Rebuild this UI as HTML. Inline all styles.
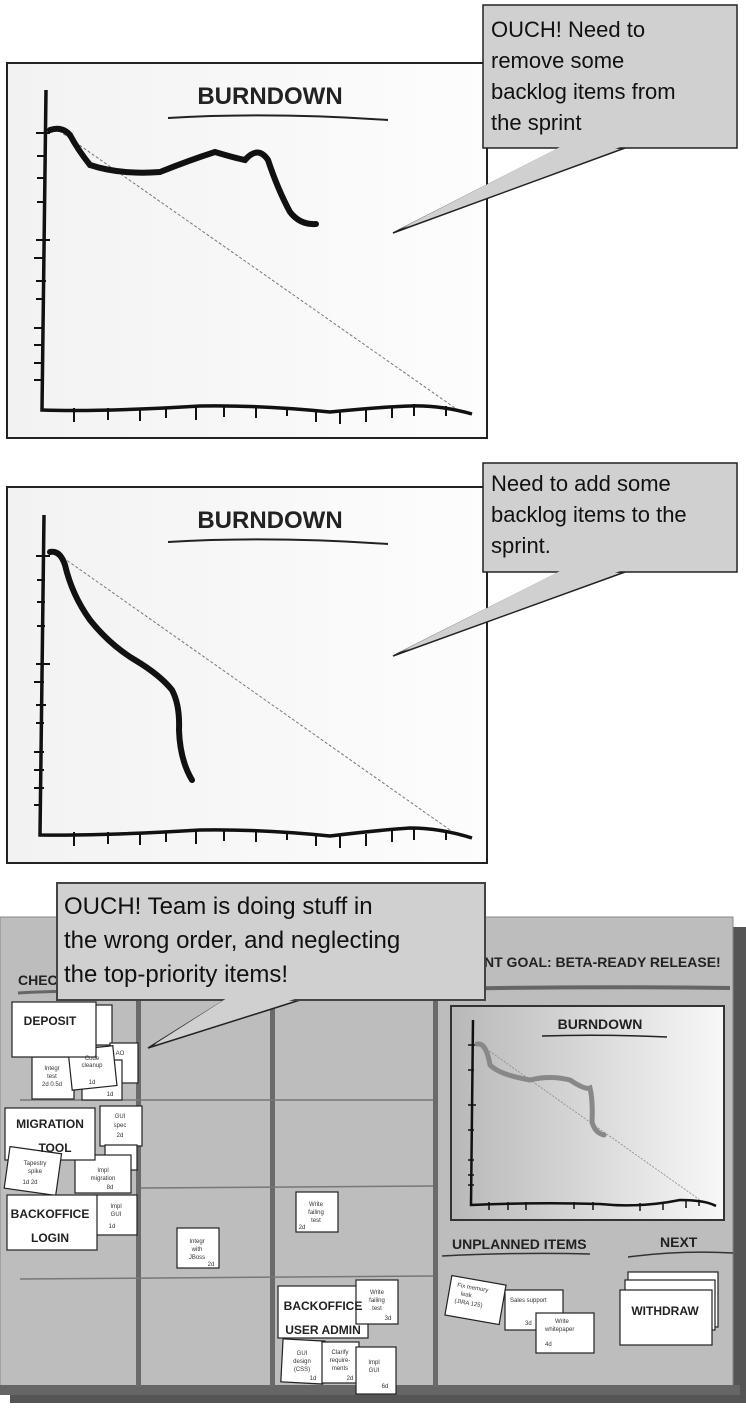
<!DOCTYPE html>
<html><head><meta charset="utf-8"><style>
html,body{margin:0;padding:0;background:#fff;}
svg{display:block;}
.t{font-family:"Liberation Sans",sans-serif;}
.c{font-family:"Liberation Sans",sans-serif;font-weight:bold;}
.s{font-family:"Liberation Sans",sans-serif;font-size:6px;fill:#333;}
</style></head><body>
<svg width="746" height="1410" viewBox="0 0 746 1410" xmlns="http://www.w3.org/2000/svg">
<defs>
<linearGradient id="pg" x1="0" y1="0" x2="1" y2="0"><stop offset="0" stop-color="#f2f2f2"/><stop offset="1" stop-color="#fdfdfd"/></linearGradient>
<linearGradient id="bg" x1="0" y1="0" x2="1" y2="0"><stop offset="0" stop-color="#b8b8b8"/><stop offset="1" stop-color="#f8f8f8"/></linearGradient>
</defs>

<!-- Panel 1 -->
<rect x="7" y="63" width="480" height="375" fill="url(#pg)" stroke="#222" stroke-width="2"/>
<text x="270" y="104" class="c" font-size="24" text-anchor="middle" fill="#222">BURNDOWN</text>
<path d="M168 118 Q270 112 388 120" stroke="#222" stroke-width="2" fill="none"/>
<path d="M46 90 Q44 250 42 410 Q100 412 200 406 Q260 405 330 412 Q380 407 410 406 Q440 405 472 414" stroke="#111" stroke-width="3.5" fill="none"/>
<g stroke="#111" stroke-width="2"><path d="M36 133h14M37 156h8M37 178h8M37 202h8M36 240h14M34 258h10M36 281h10M36 299h8M34 328h10M34 345h10M34 363h10M34 380h8M74 408v14M108 408v12M140 408v13M166 408v10M196 406v14M224 405v12M256 406v12M287 408v8M316 410v12M340 410v14M366 410v12M392 406v12M414 404v12M446 406v10"/></g>
<line x1="55" y1="128" x2="455" y2="408" stroke="#777" stroke-width="1" stroke-dasharray="3,2"/>
<path d="M50 130 Q62 126 70 135 Q78 150 90 165 Q120 175 160 172 Q190 160 215 152 Q235 158 245 160 Q258 145 268 160 Q278 190 290 212 Q300 225 316 224" stroke="#111" stroke-width="6" fill="none" stroke-linecap="round"/>

<!-- Callout 1 -->
<polygon points="560,148 625,148 393,233" fill="#d0d0d0" stroke="#222" stroke-width="1.5"/>
<rect x="483" y="5" width="254" height="143" fill="#d0d0d0" stroke="#222" stroke-width="1.5"/>
<polygon points="562,146 623,146 400,229" fill="#d0d0d0"/>
<g class="t" font-size="22" fill="#111"><text x="491" y="37">OUCH! Need to</text><text x="491" y="68">remove some</text><text x="491" y="99">backlog items from</text><text x="491" y="130">the sprint</text></g>

<!-- Panel 2 -->
<rect x="7" y="487" width="480" height="376" fill="url(#pg)" stroke="#222" stroke-width="2"/>
<text x="270" y="528" class="c" font-size="24" text-anchor="middle" fill="#222">BURNDOWN</text>
<path d="M168 542 Q270 536 388 544" stroke="#222" stroke-width="2" fill="none"/>
<path d="M44 515 Q42 680 40 835 Q100 836 200 830 Q260 829 330 836 Q380 830 410 828 Q440 828 472 838" stroke="#111" stroke-width="3.5" fill="none"/>
<g stroke="#111" stroke-width="2"><path d="M36 556h14M37 580h8M37 602h8M37 626h8M36 664h14M34 682h10M36 705h10M36 723h8M34 752h10M34 770h10M34 788h10M34 805h8M74 832v14M108 832v12M140 832v13M166 832v10M196 830v14M224 829v12M256 830v12M287 832v8M316 834v12M340 834v14M366 834v12M392 830v12M414 828v12M446 830v10"/></g>
<line x1="55" y1="552" x2="450" y2="830" stroke="#777" stroke-width="1" stroke-dasharray="3,2"/>
<path d="M50 552 Q60 550 65 565 Q72 595 90 620 Q110 645 135 660 Q160 675 172 690 Q180 705 179 730 Q180 760 192 780" stroke="#111" stroke-width="6" fill="none" stroke-linecap="round"/>

<!-- Callout 2 -->
<polygon points="560,572 625,572 393,656" fill="#d0d0d0" stroke="#222" stroke-width="1.5"/>
<rect x="483" y="463" width="254" height="109" fill="#d0d0d0" stroke="#222" stroke-width="1.5"/>
<polygon points="562,570 623,570 400,652" fill="#d0d0d0"/>
<g class="t" font-size="22" fill="#111"><text x="491" y="491">Need to add some</text><text x="491" y="522">backlog items to the</text><text x="491" y="553">sprint.</text></g>

<!-- Board -->
<rect x="10" y="927" width="736" height="476" fill="#555"/>
<rect x="0" y="917" width="733" height="470" fill="#bdbdbd" stroke="#888" stroke-width="1"/>
<rect x="0" y="1385" width="740" height="10" fill="#666"/>
<g fill="#6a6a6a"><rect x="136" y="995" width="5" height="392"/><rect x="270" y="995" width="5" height="392"/><rect x="433" y="917" width="5" height="470"/></g>
<g stroke="#777" stroke-width="1.5"><line x1="20" y1="1100" x2="433" y2="1100"/><line x1="141" y1="1188" x2="433" y2="1186"/><line x1="20" y1="1279" x2="433" y2="1276"/></g>
<path d="M18 993 Q60 990 133 992" stroke="#666" stroke-width="3" fill="none"/>
<path d="M440 989 Q600 986 730 988" stroke="#666" stroke-width="4" fill="none"/>
<text x="18" y="985" class="c" font-size="14" fill="#222">CHEC</text>
<text x="484" y="967" class="c" font-size="14" fill="#222">NT GOAL: BETA-READY RELEASE!</text>

<!-- Mini burndown -->
<rect x="451" y="1006" width="273" height="214" fill="url(#bg)" stroke="#333" stroke-width="2"/>
<text x="600" y="1029" class="c" font-size="14" text-anchor="middle" fill="#222">BURNDOWN</text>
<path d="M542 1036 Q600 1034 667 1037" stroke="#222" stroke-width="1.5" fill="none"/>
<path d="M473 1020 Q472 1110 471 1205 Q540 1202 600 1204 Q640 1208 680 1200 Q705 1200 716 1206" stroke="#111" stroke-width="2.5" fill="none"/>
<g stroke="#111" stroke-width="1.5"><path d="M468 1045h8M468 1070h6M468 1105h8M468 1130h6M468 1160h6M468 1175h6M468 1185h6M489 1202v8M508 1202v8M526 1202v8M574 1202v7M593 1202v8M640 1203v8M663 1202v8M686 1200v8M699 1200v6"/></g>
<line x1="478" y1="1043" x2="700" y2="1200" stroke="#888" stroke-width="0.8" stroke-dasharray="2,1.5"/>
<path d="M477 1044 Q486 1042 490 1065 Q500 1075 530 1080 Q550 1075 570 1080 Q585 1090 590 1088 Q593 1100 592 1122 Q595 1133 604 1135" stroke="#888" stroke-width="5" fill="none" stroke-linecap="round"/>
<text x="452" y="1249" class="c" font-size="14" fill="#222">UNPLANNED ITEMS</text>
<path d="M442 1256 Q520 1252 590 1254" stroke="#333" stroke-width="1.5" fill="none"/>
<text x="660" y="1247" class="c" font-size="14" fill="#222">NEXT</text>
<path d="M628 1257 Q680 1250 733 1253" stroke="#333" stroke-width="1.5" fill="none"/>
<g fill="#fff" stroke="#222" stroke-width="1.2">
<rect x="448" y="1280" width="55" height="40" transform="rotate(10 475 1300)"/>
<rect x="505" y="1290" width="58" height="40"/>
<rect x="536" y="1313" width="58" height="40"/>
<rect x="628" y="1272" width="90" height="55"/>
<rect x="625" y="1280" width="90" height="50"/>
<rect x="620" y="1290" width="92" height="55"/>
</g>
<g class="s"><text x="455" y="1290" transform="rotate(10 475 1300)">Fix memory</text><text x="460" y="1298" transform="rotate(10 475 1300)">leak</text><text x="455" y="1306" transform="rotate(10 475 1300)">(JIRA 125)</text><text x="510" y="1302">Sales support</text><text x="525" y="1325">3d</text><text x="555" y="1323">Write</text><text x="545" y="1331">whitepaper</text><text x="545" y="1346">4d</text></g>
<text x="665" y="1315" class="c" font-size="12" text-anchor="middle" fill="#222">WITHDRAW</text>

<!-- Left cards -->
<g fill="#fff" stroke="#222" stroke-width="1.2">
<rect x="90" y="1005" width="22" height="40"/>
<rect x="110" y="1043" width="28" height="40"/>
<rect x="82" y="1060" width="40" height="40"/>
<rect x="32" y="1057" width="42" height="42"/>
<rect x="70" y="1048" width="45" height="40" transform="rotate(-6 92 1068)"/>
<rect x="12" y="1002" width="84" height="55"/>
<rect x="100" y="1106" width="42" height="40"/>
<rect x="105" y="1145" width="32" height="25"/>
<rect x="75" y="1155" width="56" height="38"/>
<rect x="5" y="1108" width="90" height="52"/>
<rect x="7" y="1150" width="52" height="42" transform="rotate(8 33 1170)"/>
<rect x="95" y="1195" width="42" height="40"/>
<rect x="7" y="1195" width="90" height="55"/>
<rect x="177" y="1228" width="42" height="40"/>
<rect x="296" y="1192" width="42" height="40"/>
<rect x="278" y="1286" width="90" height="52"/>
<rect x="356" y="1280" width="42" height="44"/>
<rect x="282" y="1340" width="42" height="43" transform="rotate(3 303 1360)"/>
<rect x="322" y="1342" width="37" height="41"/>
<rect x="356" y="1347" width="40" height="47"/>
</g>
<g class="c" font-size="12" fill="#222" text-anchor="middle">
<text x="50" y="1025">DEPOSIT</text>
<text x="50" y="1128">MIGRATION</text><text x="55" y="1152">TOOL</text>
<text x="50" y="1218">BACKOFFICE</text><text x="50" y="1242">LOGIN</text>
<text x="323" y="1310">BACKOFFICE</text><text x="323" y="1334">USER ADMIN</text>
</g>
<g class="s" text-anchor="middle">
<text x="52" y="1070">Integr</text><text x="52" y="1078">test</text><text x="52" y="1086">2d 0.5d</text>
<text x="92" y="1060">Code</text><text x="92" y="1067">cleanup</text><text x="92" y="1084">1d</text>
<text x="120" y="1055">AO</text><text x="110" y="1096">1d</text>
<text x="120" y="1118">GUI</text><text x="120" y="1127">spec</text><text x="120" y="1137">2d</text>
<text x="103" y="1172">Impl</text><text x="103" y="1180">migration</text><text x="110" y="1189">8d</text>
<text x="35" y="1165">Tapestry</text><text x="35" y="1173">spike</text><text x="30" y="1184">1d 2d</text>
<text x="116" y="1208">Impl</text><text x="116" y="1216">GUI</text><text x="112" y="1228">1d</text>
<text x="197" y="1243">Integr</text><text x="197" y="1251">with</text><text x="197" y="1259">JBoss</text><text x="211" y="1266">2d</text>
<text x="316" y="1206">Write</text><text x="316" y="1214">failing</text><text x="316" y="1222">test</text><text x="302" y="1229">2d</text>
<text x="377" y="1294">Write</text><text x="377" y="1302">failing</text><text x="377" y="1310">test</text><text x="388" y="1320">3d</text>
<text x="302" y="1355">GUI</text><text x="302" y="1363">design</text><text x="302" y="1371">(CSS)</text><text x="313" y="1380">1d</text>
<text x="340" y="1354">Clarify</text><text x="340" y="1362">require-</text><text x="340" y="1370">ments</text><text x="350" y="1380">2d</text>
<text x="374" y="1364">Impl</text><text x="374" y="1372">GUI</text><text x="385" y="1388">6d</text>
</g>

<!-- Callout 3 -->
<polygon points="225,1000 300,1000 148,1048" fill="#d0d0d0" stroke="#222" stroke-width="1.5"/>
<rect x="57" y="883" width="428" height="117" fill="#d0d0d0" stroke="#444" stroke-width="2"/>
<polygon points="227,998 298,998 155,1044" fill="#d0d0d0"/>
<g class="t" font-size="24" fill="#111"><text x="64" y="914">OUCH! Team is doing stuff in</text><text x="64" y="948">the wrong order, and neglecting</text><text x="64" y="982">the top-priority items!</text></g>
</svg>
</body></html>
